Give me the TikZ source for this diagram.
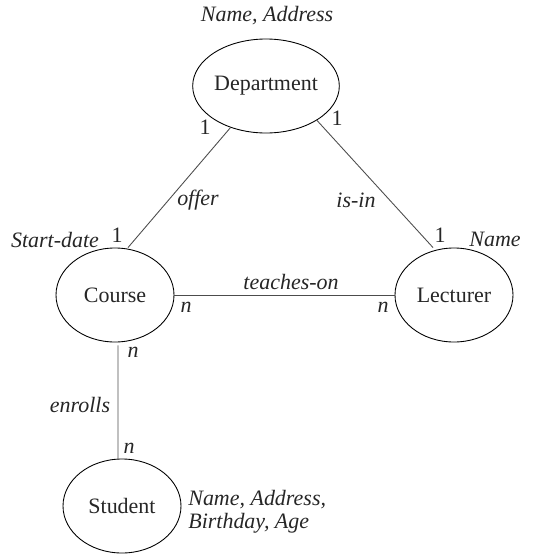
\documentclass[tikz,border=0pt]{standalone}
\usepackage{fontspec}
\setmainfont{Liberation Serif}
\usetikzlibrary{shapes.geometric,positioning}

\tikzset{
    entity/.style={ellipse, draw, line width=0.5pt, minimum width=2.36cm, minimum height=1.88cm, inner sep=0pt, text=black!85},
    link/.style={line width=0.5pt, draw=black!70},
    attr/.style={font=\itshape, text=black!85, inner sep=0pt},
    card/.style={text=black!85, inner sep=0pt}
}

\begin{document}
\fontsize{12.5}{13.1}\selectfont
\begin{tikzpicture}
    \useasboundingbox (0,0) rectangle (11.2,-11.08);

    % Entities
    \node[entity] (dept) at (5.32,-1.72) {Department};
    \node[entity] (course) at (2.30,-5.90) {Course};
    \node[entity] (lect) at (9.08,-5.90) {Lecturer};
    \node[entity] (student) at (2.44,-10.12) {Student};

    % Relationships
    \draw [link] (dept) -- ([xshift=0.26cm]course.north);
    \draw [link] (dept.-34) -- ([xshift=-0.42cm]lect.north);
    \draw [link] (course) -- (lect);
    \draw [link] ([shift={(0.06,-0.06)}]course.south) -- ([xshift=-0.08cm]student.north);

    % Relationship names
    \node[attr] (offer) at (3.96,-4.00) {offer};
    \node[attr] (isin) at (7.12,-4.00) {is-in};
    \node[attr] (teaches) at (5.82,-5.64) {teaches-on};
    \node[attr] (enrolls) at (1.60,-8.10) {enrolls};

    % Cardinalities
    \node[card] (c1) at (4.10,-2.54) {1};
    \node[card] (c2) at (6.74,-2.36) {1};
    \node[card] (c3) at (2.34,-4.70) {1};
    \node[card] (c4) at (8.80,-4.70) {1};
    \node[attr] (c5) at (3.72,-6.14) {n};
    \node[attr] (c6) at (7.66,-6.14) {n};
    \node[attr] (c7) at (2.66,-7.04) {n};
    \node[attr] (c8) at (2.58,-8.96) {n};

    % Attributes
    \node[attr] (deptattr) at (5.34,-0.32) {Name, Address};
    \node[attr] (courseattr) at (1.10,-4.80) {Start-date};
    \node[attr] (lectattr) at (9.90,-4.78) {Name};
    \node[attr, anchor=west, align=left] (studattr) at (3.76,-10.23) {Name, Address,\\Birthday, Age};
\end{tikzpicture}
\end{document}
